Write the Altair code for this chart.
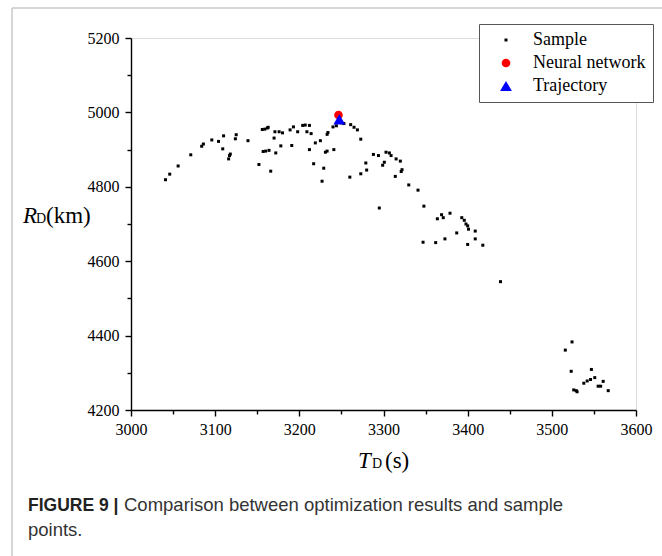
import altair as alt
import pandas as pd

# ---- data ----
sample_t = [3041, 3046, 3056, 3071, 3084, 3086, 3096, 3104, 3110, 3109,
            3116, 3117, 3118, 3124, 3125, 3139, 3152, 3156, 3159, 3162,
            3163, 3157, 3160, 3164, 3166, 3171, 3176, 3170, 3172, 3178,
            3180, 3189, 3193, 3191, 3198, 3204, 3207, 3212, 3209, 3214,
            3212, 3217, 3219, 3225, 3229, 3227, 3231, 3233, 3233, 3234,
            3241, 3240, 3244, 3250, 3253, 3261, 3265, 3269, 3273, 3260,
            3273, 3279, 3280, 3288, 3294, 3295, 3299, 3301, 3303, 3307,
            3309, 3314, 3315, 3320, 3321, 3322, 3330, 3341, 3348, 3347,
            3362, 3364, 3369, 3371, 3373, 3379, 3387, 3393, 3396, 3398,
            3400, 3401, 3400, 3409, 3409, 3418, 3439, 3516, 3524, 3523,
            3526, 3529, 3530, 3538, 3542, 3546, 3547, 3551, 3555, 3558,
            3561, 3567]
sample_r = [4819, 4834, 4856, 4886, 4909, 4915, 4926, 4922, 4937, 4902,
            4875, 4884, 4888, 4929, 4940, 4924, 4860, 4954, 4955, 4958,
            4960, 4895, 4896, 4898, 4842, 4948, 4948, 4931, 4891, 4910,
            4945, 4953, 4961, 4911, 4948, 4965, 4966, 4965, 4948, 4943,
            4900, 4862, 4918, 4924, 4850, 4815, 4893, 4896, 4941, 4946,
            4900, 4961, 4964, 4972, 4970, 4967, 4960, 4953, 4928, 4826,
            4835, 4864, 4845, 4887, 4884, 4743, 4858, 4866, 4893, 4891,
            4884, 4828, 4875, 4869, 4841, 4846, 4805, 4791, 4748, 4651,
            4650, 4714, 4725, 4717, 4660, 4729, 4676, 4717, 4710, 4700,
            4695, 4686, 4645, 4681, 4660, 4643, 4545, 4361, 4383, 4304,
            4254, 4252, 4249, 4272, 4278, 4282, 4309, 4287, 4264, 4264,
            4277, 4252]
nn_t = [3246.5]
nn_r = [4993]
traj_t = [3247.5]
traj_r = [4981]

series_names = ["Sample", "Neural network", "Trajectory"]
series_colors = ["#000000", "#ff0000", "#0000ff"]
series_shapes = ["square", "circle", "triangle-up"]
series_sizes = [9, 140, 125]

x_ticks = list(range(3000, 3601, 50))
y_ticks = list(range(4200, 5201, 100))

df = pd.DataFrame({
    "T": sample_t + nn_t + traj_t,
    "R": sample_r + nn_r + traj_r,
    "series": ["Sample"] * len(sample_t) + ["Neural network"] * len(nn_t) + ["Trajectory"] * len(traj_t),
})

W, H = 505, 372
PL, PT = 131, 38
PR = 662 - PL - W
PB = 556 - PT - H

common_axis = dict(
    title=None, grid=False, domainColor="black", domainWidth=1.4,
    tickColor="black", tickWidth=1.4, labelFont="Liberation Serif",
    labelFontSize=16, labelColor="black", labelFlush=False,
    labelOverlap=False, format="d",
)

legend = alt.Legend(
    title=None, orient="none", legendX=348, legendY=-14,
    strokeColor="#555555", fillColor="white", padding=7,
    labelFont="Liberation Serif", labelFontSize=18, labelColor="black",
    symbolOffset=11, labelOffset=18, rowPadding=5, symbolStrokeWidth=0,
)

points = alt.Chart(df).mark_point(filled=True, opacity=1, strokeWidth=0).encode(
    x=alt.X("T:Q", scale=alt.Scale(domain=[3000, 3600], nice=False, zero=False),
            axis=alt.Axis(values=x_ticks,
                          labelExpr="datum.value % 100 === 0 ? datum.label : ''",
                          tickSize={"condition": {"test": "datum.value % 100 === 0", "value": 6}, "value": 4},
                          labelPadding=5, **common_axis)),
    y=alt.Y("R:Q", scale=alt.Scale(domain=[4200, 5200], nice=False, zero=False),
            axis=alt.Axis(values=y_ticks,
                          labelExpr="datum.value % 200 === 0 ? datum.label : ''",
                          tickSize={"condition": {"test": "datum.value % 200 === 0", "value": 6}, "value": 4},
                          labelPadding=6, **common_axis)),
    color=alt.Color("series:N", scale=alt.Scale(domain=series_names, range=series_colors), legend=legend),
    shape=alt.Shape("series:N", scale=alt.Scale(domain=series_names, range=series_shapes), legend=legend),
    size=alt.Size("series:N", scale=alt.Scale(domain=series_names, range=series_sizes), legend=legend),
)

dummy = pd.DataFrame({"k": [0]})


def text(s, x, y, size, style="normal", weight="normal", font="Liberation Serif", color="black"):
    return alt.Chart(dummy).mark_text(
        text=s, align="left", baseline="alphabetic", font=font, fontSize=size,
        fontStyle=style, fontWeight=weight, color=color,
    ).encode(x=alt.value(x), y=alt.value(y))


texts = [
    text("R", 23 - PL, 223 - PT, 23, style="italic"),
    text("D", 36 - PL, 223 - PT, 14),
    text("(km)", 46 - PL, 223 - PT, 23),
    text("T", 358 - PL, 468 - PT, 23, style="italic"),
    text("D", 372 - PL, 468 - PT, 14),
    text("(s)", 385 - PL, 468 - PT, 23),
    text("FIGURE 9 |", 28 - PL, 511 - PT, 17.5, weight="bold", font="Liberation Sans", color="#222222"),
    text("Comparison between optimization results and sample", 124 - PL, 511 - PT, 18.5,
         font="Liberation Sans", color="#333333"),
    text("points.", 28 - PL, 536 - PT, 18.5, font="Liberation Sans", color="#333333"),
]

border_left = alt.Chart(dummy).mark_rule(color="#c8c8c8", strokeWidth=1.5).encode(
    x=alt.value(12 - PL), y=alt.value(8 - PT), y2=alt.value(600))
border_top = alt.Chart(dummy).mark_rule(color="#c8c8c8", strokeWidth=1.5).encode(
    x=alt.value(12 - PL), x2=alt.value(700), y=alt.value(8 - PT))

chart = alt.layer(border_left, border_top, points, *texts).properties(
    width=W, height=H,
    autosize=alt.AutoSizeParams(type="none"),
    padding={"left": PL, "top": PT, "right": PR, "bottom": PB},
).configure_view(stroke=None).configure(background="white")

chart.save("out.html", embed_options={"renderer": "svg", "actions": False})
